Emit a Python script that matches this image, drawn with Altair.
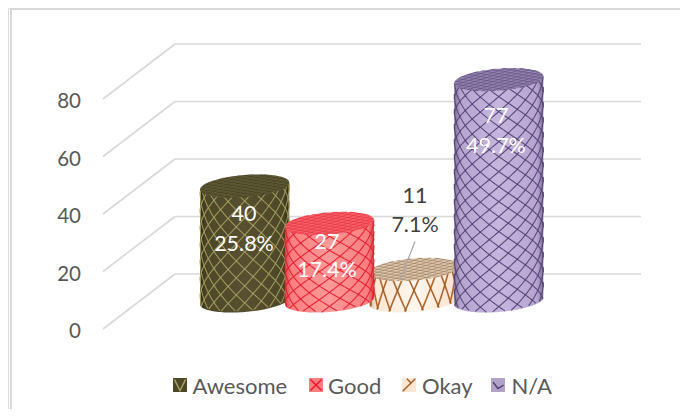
import math
import altair as alt
import pandas as pd

CATEGORIES = ["Awesome", "Good", "Okay", "N/A"]
VALUES = [40, 27, 11, 77]
PERCENTS = ["25.8%", "17.4%", "7.1%", "49.7%"]
TICKS = [0, 20, 40, 60, 80]

FONT = "Lato"
W, H = 672, 401
PX0, PPU = 329.0, 2.875          # front-plane: pixel of value 0, pixels per unit
BACK_DEPTH = 55 / PPU            # rise of the back wall in value units
BAR_DEPTH = 28 / PPU             # rise of the cylinder bases in value units
R, B, TILT = 44.5, 11.0, 0.078   # cylinder radius, ellipse minor, tilt

CENTERS = {"Awesome": 244.7, "Good": 329.5, "Okay": 414.0, "N/A": 498.8}
STYLE = {
    "Awesome": dict(edge="#2e2b14", base="#4c4727", mid="#565030", top="#4a4526", lat="#a89f62", toplat="#6d6741", cw=17, ch=17, ph=4, lw=1.1),
    "Good": dict(edge="#d8434a", base="#fb7f80", mid="#ff9a98", top="#f4636a", lat="#e8182e", toplat="#e8283a", cw=21, ch=14, ph=2, lw=1.1),
    "Okay": dict(edge="#c9b39b", base="#fbe6d3", mid="#fff6ee", top="#dcc9b3", lat="#a4581c", toplat="#96704a", cw=17, ch=38, ph=10, lw=1.6),
    "N/A": dict(edge="#80709a", base="#b6a5cf", mid="#c6b6de", top="#9483ae", lat="#4f3f72", toplat="#57477a", cw=19, ch=15, ph=6, lw=1.1),
}
DRAW_ORDER = ["Awesome", "Okay", "Good", "N/A"]

LABELS = [
    ("40", 244, 215, "#ffffff"), ("25.8%", 244, 245, "#ffffff"),
    ("27", 327, 243, "#ffffff"), ("17.4%", 327, 271, "#ffffff"),
    ("11", 415, 197, "#404040"), ("7.1%", 415, 226, "#404040"),
    ("77", 496, 117, "#ffffff"), ("49.7%", 496, 147, "#ffffff"),
]
LEGEND_SWATCH = {"Awesome": 180, "Good": 316, "Okay": 409, "N/A": 498}
LEGEND_TEXT = {"Awesome": 192.5, "Good": 328, "Okay": 422, "N/A": 511.5}
LEGEND_MARK = {"Awesome": ("#4c4727", "#a89f62", "M-0.8,-0.8L0,0.8L0.8,-0.8"),
               "Good": ("#fb7f80", "#ee1127", "M-0.8,-0.8L0.8,0.8M-0.8,0.8L0.8,-0.8"),
               "Okay": ("#fde6d4", "#a4581c", "M-0.9,0.9L0.9,-0.9M-0.3,-0.9L0.3,-0.3"),
               "N/A": ("#b2a2c7", "#4f3f72", "M-0.7,-0.4L0,0.5L0.8,0")}


def v(px):
    return (PX0 - px) / PPU


xs = alt.Scale(domain=[8, 8 + W], range=[0, W], nice=False, zero=False)
ys = alt.Scale(domain=[v(8 + H), v(8)], range=[H, 0], nice=False, zero=False)
X = alt.X("x:Q", scale=xs, axis=None)
X2 = alt.X2("x2:Q")
Y = alt.Y("y:Q", scale=ys, axis=None)
Y2 = alt.Y2("y2:Q")


def lines(rows, color, width, opacity=0.9):
    return alt.Chart(pd.DataFrame(rows)).mark_line(
        color=color, strokeWidth=width, interpolate="linear", opacity=opacity
    ).encode(x=X, y=Y, detail=alt.Detail("id:N"))


layers = []

# frame
frame = pd.DataFrame([
    {"x": 11, "y": v(9), "x2": 8 + W, "y2": v(9)},
    {"x": 11, "y": v(9), "x2": 11, "y2": v(8 + H)},
])
layers.append(alt.Chart(frame).mark_rule(color="#d9d9d9", strokeWidth=2).encode(x=X, y=Y, x2=X2, y2=Y2))

# walls
wall = []
for t in TICKS:
    wall.append({"x": 103, "y": t, "x2": 175, "y2": t + BACK_DEPTH})
    wall.append({"x": 175, "y": t + BACK_DEPTH, "x2": 641, "y2": t + BACK_DEPTH})
layers.append(alt.Chart(pd.DataFrame(wall)).mark_rule(color="#d9d9d9", strokeWidth=1.6).encode(x=X, y=Y, x2=X2, y2=Y2))

# value-axis labels
axis_df = pd.DataFrame({"text": [str(t) for t in TICKS], "x": [81] * len(TICKS), "y": TICKS})
layers.append(alt.Chart(axis_df).mark_text(font=FONT, fontSize=20.5, baseline="middle", align="right", color="#595959", dy=3).encode(
    x=X, y=Y, text="text:N"))

# cylinders
for cat in DRAW_ORDER:
    val = VALUES[CATEGORIES.index(cat)]
    st = STYLE[cat]
    cx = CENTERS[cat]
    y_base = PX0 - (BAR_DEPTH * PPU)
    y_top = y_base - val * PPU
    ts = [math.cos(math.pi * i / 60) for i in range(60, -1, -1)]

    body, cap = [], []
    for t in ts:
        dx = R * t
        h = B * math.sqrt(max(0, 1 - t * t))
        body.append({"x": cx + dx, "y": v(y_top - TILT * dx), "y2": v(y_base - TILT * dx + h)})
        cap.append({"x": cx + dx, "y": v(y_top - TILT * dx - h), "y2": v(y_top - TILT * dx + h)})

    grad = alt.Gradient(gradient="linear", x1=0, x2=1, y1=0, y2=0, stops=[
        alt.GradientStop(offset=0, color=st["edge"]),
        alt.GradientStop(offset=0.07, color=st["base"]),
        alt.GradientStop(offset=0.5, color=st["mid"]),
        alt.GradientStop(offset=0.93, color=st["base"]),
        alt.GradientStop(offset=1, color=st["edge"]),
    ])
    layers.append(alt.Chart(pd.DataFrame(body)).mark_area(color=grad).encode(x=X, y=Y, y2=Y2))

    # lattice wrapped around the side
    m = st["ch"] / st["cw"]
    rows, nid = [], 0
    n = int((y_base - y_top) / st["ch"]) + 8
    for s in (1, -1):
        for k in range(-6, n + 4):
            cur = []
            for i in range(0, 91):
                th = -math.pi / 2 + math.pi * i / 90
                dx = R * math.sin(th)
                yy = y_top + st["ph"] + k * st["ch"] + s * R * th * m + B * math.cos(th) - TILT * dx
                lo = y_top - TILT * dx
                hi = y_base - TILT * dx + B * math.cos(th)
                if lo <= yy <= hi:
                    cur.append({"id": nid, "x": cx + dx, "y": v(yy)})
                else:
                    if len(cur) > 1:
                        rows += cur
                        nid += 1
                    cur = []
            if len(cur) > 1:
                rows += cur
                nid += 1
    layers.append(lines(rows, st["lat"], st["lw"]))

    # cap with a denser lattice
    layers.append(alt.Chart(pd.DataFrame(cap)).mark_area(color=st["top"]).encode(x=X, y=Y, y2=Y2))
    rows, nid = [], 0
    for s in (1, -1):
        for j in range(-5, 6):
            c = j * 0.27
            disc = 2 - c * c
            if disc <= 0:
                continue
            p1 = (c - math.sqrt(disc)) / 2
            p2 = (c + math.sqrt(disc)) / 2
            for p in (p1, p2):
                q = s * (c - p)
                dx = R * p
                rows.append({"id": nid, "x": cx + dx, "y": v(y_top - TILT * dx + B * q)})
            nid += 1
    layers.append(lines(rows, st["toplat"], 0.7, 0.75))

# leader line
leader = pd.DataFrame([{"x": 415, "y": v(241.5), "x2": 400, "y2": v(280)}])
layers.append(alt.Chart(leader).mark_rule(color="#a6a6a6", strokeWidth=1.2).encode(x=X, y=Y, x2=X2, y2=Y2))

# data labels
lab = pd.DataFrame([{"text": t, "x": x, "y": v(y), "c": c} for t, x, y, c in LABELS])
layers.append(alt.Chart(lab).mark_text(font=FONT, fontSize=21.5, baseline="middle", align="center").encode(
    x=X, y=Y, text="text:N", color=alt.Color("c:N", scale=None)))

# legend
for cat in CATEGORIES:
    fill, stroke, path = LEGEND_MARK[cat]
    d = pd.DataFrame([{"x": LEGEND_SWATCH[cat], "y": v(385)}])
    layers.append(alt.Chart(d).mark_point(shape="square", filled=True, color=fill, size=196, opacity=1).encode(x=X, y=Y))
    layers.append(alt.Chart(d).mark_point(shape=path, filled=False, color=stroke, size=196, strokeWidth=1.4, opacity=1).encode(x=X, y=Y))
leg = pd.DataFrame([{"text": c, "x": LEGEND_TEXT[c], "y": v(386.5)} for c in CATEGORIES])
layers.append(alt.Chart(leg).mark_text(font=FONT, fontSize=22, baseline="middle", align="left", color="#595959").encode(
    x=X, y=Y, text="text:N"))

chart = alt.layer(*layers).resolve_scale(color="independent").properties(
    width=W, height=H, padding=0,
    autosize=alt.AutoSizeParams(type="none"),
).configure_view(stroke=None).configure(background="#ffffff")

chart.save("out.html", embed_options={"renderer": "svg", "actions": False})
